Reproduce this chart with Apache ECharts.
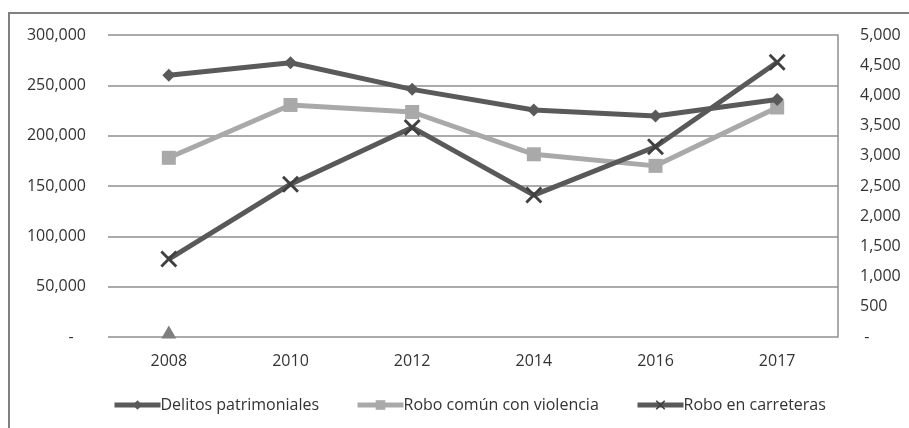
<!DOCTYPE html>
<html>
<head>
<meta charset="utf-8">
<script src="https://cdn.jsdelivr.net/npm/echarts@6/dist/echarts.min.js"></script>
<style>html,body{margin:0;padding:0;background:#fff}#c{width:909px;height:428px}</style>
</head>
<body>
<div id="c"></div>
<script>
var categories = ['2008', '2010', '2012', '2014', '2016', '2017'];
var delitosPatrimoniales = [260000, 272500, 246000, 225500, 219500, 236000];
var roboComun = [178000, 230500, 223500, 181500, 170000, 228000];
var roboCarreteras = [1290, 2530, 3470, 2350, 3150, 4550];
var marcadorExtra = [0, '-', '-', '-', '-', '-'];
var leftTicks = { min: 0, max: 300000, interval: 50000 };
var rightTicks = { min: 0, max: 5000, interval: 500 };

function fmtLeft(v) { return v === 0 ? '-   ' : v.toLocaleString('en-US'); }
function fmtRight(v) { return v === 0 ? ' -' : v.toLocaleString('en-US'); }

var chart = echarts.init(document.getElementById('c'), null, { renderer: 'canvas' });
var font = 'Open Sans';
var txt = '#333333';
var xPath = 'path://M0,1.2 L1.2,0 L5,3.8 L8.8,0 L10,1.2 L6.2,5 L10,8.8 L8.8,10 L5,6.2 L1.2,10 L0,8.8 L3.8,5 Z';
function lg(name, left) {
  return {
    data: [name], left: left, top: 392, itemWidth: 46, itemHeight: 12,
    lineStyle: { width: 5 },
    textStyle: { fontFamily: font, fontSize: 16, color: txt, padding: [0, 0, 0, -5] }
  };
}
chart.setOption({
  animation: false,
  backgroundColor: '#fff',
  graphic: [{
    type: 'rect', shape: { x: 9, y: 13, width: 1000, height: 500 },
    style: { fill: 'none', stroke: '#808080', lineWidth: 2 }, silent: true
  }],
  grid: { left: 108, right: 71, top: 35, bottom: 91 },
  legend: [
    lg('Delitos patrimoniales', 107),
    lg('Robo común con violencia', 350),
    lg('Robo en carreteras', 630)
  ],
  xAxis: {
    type: 'category', data: categories, boundaryGap: true,
    axisLine: { show: false }, axisTick: { show: false },
    axisLabel: { fontFamily: font, fontSize: 16, color: txt, margin: 16 }
  },
  yAxis: [{
    type: 'value', min: leftTicks.min, max: leftTicks.max, interval: leftTicks.interval,
    axisLine: { show: false }, axisTick: { show: false },
    axisLabel: { fontFamily: font, fontSize: 16, color: txt, margin: 22, formatter: fmtLeft },
    splitLine: { lineStyle: { color: '#8f8f8f', width: 1.5 } }
  }, {
    type: 'value', min: rightTicks.min, max: rightTicks.max, interval: rightTicks.interval,
    position: 'right',
    axisLine: { show: true, lineStyle: { color: '#8f8f8f', width: 1.5 } }, axisTick: { show: false },
    axisLabel: { fontFamily: font, fontSize: 16, color: txt, margin: 22, formatter: fmtRight },
    splitLine: { show: false }
  }],
  series: [{
    name: 'Delitos patrimoniales', type: 'line', data: delitosPatrimoniales, yAxisIndex: 0,
    symbol: 'diamond', symbolSize: 13,
    lineStyle: { color: '#5a5a5a', width: 5 }, itemStyle: { color: '#5a5a5a' }, z: 3
  }, {
    name: 'Robo común con violencia', type: 'line', data: roboComun, yAxisIndex: 0,
    symbol: 'rect', symbolSize: 14,
    lineStyle: { color: '#a9a9a9', width: 5 }, itemStyle: { color: '#a9a9a9' }, z: 2
  }, {
    name: 'Robo en carreteras', type: 'line', data: roboCarreteras, yAxisIndex: 1,
    symbol: xPath, symbolSize: 17,
    lineStyle: { color: '#595959', width: 5 }, itemStyle: { color: '#404040' }, z: 4
  }, {
    name: 'extra', type: 'line', data: marcadorExtra, yAxisIndex: 0,
    symbol: 'triangle', symbolSize: [15, 13], symbolOffset: [0, -5],
    lineStyle: { width: 0 }, itemStyle: { color: '#7f7f7f' }, z: 5
  }]
});
</script>
</body>
</html>
